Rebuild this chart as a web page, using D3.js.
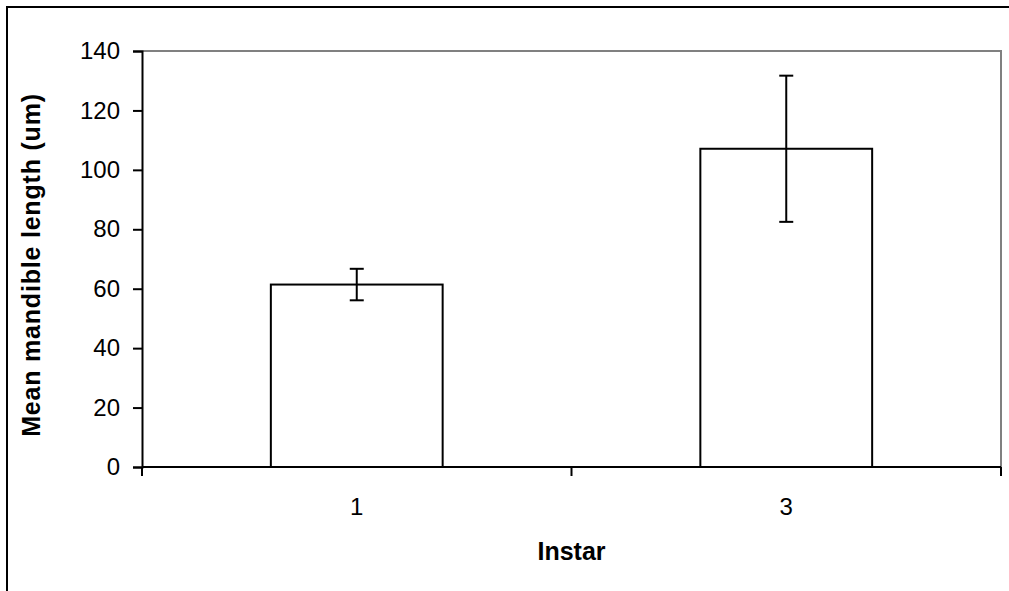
<!DOCTYPE html>
<html lang="en">
<head>
    <meta charset="UTF-8">
    <title>Mandible length</title>
    <script src="https://d3js.org/d3.v7.min.js"></script>
    <style>
        body { margin: 0; background: #fff; }
        text { font-family: Arial, "Liberation Sans", sans-serif; fill: #000; }
    </style>
</head>
<body>
<div style="width: 1009px;height: 591px" id="figure"></div>
<script>
    // data
    let instars = ["1", "3"];
    let means = [61.4, 107.1];
    let errs = [5.3, 24.6];
    let yTicks = [0, 20, 40, 60, 80, 100, 120, 140];

    let w = 1009, h = 591;
    let pLeft = 142, pRight = 1001, pTop = 51, pBottom = 467;

    let svg = d3.select("#figure").append("svg")
        .attr("width", w)
        .attr("height", h);

    // outer chart frame (cut off at right and bottom)
    svg.append("path")
        .attr("d", "M7," + h + " V7 H" + w)
        .attr("fill", "none")
        .attr("stroke", "#000")
        .attr("stroke-width", 2);

    let x = d3.scaleBand()
        .domain(instars)
        .range([pLeft, pRight])
        .paddingInner(0.6)
        .paddingOuter(0.3);
    let y = d3.scaleLinear()
        .domain([0, 140])
        .range([pBottom, pTop]);

    // plot area border, grey on top and right
    svg.append("path")
        .attr("d", "M" + pLeft + "," + pTop + " H" + pRight + " V" + pBottom)
        .attr("fill", "none")
        .attr("stroke", "#808080")
        .attr("stroke-width", 2);

    let plot = svg.append("g");

    plot.selectAll("rect.bar")
        .data(instars)
        .join("rect")
        .attr("class", "bar")
        .attr("x", d => x(d))
        .attr("y", (d, i) => y(means[i]))
        .attr("width", x.bandwidth())
        .attr("height", (d, i) => pBottom - y(means[i]))
        .attr("fill", "#fff")
        .attr("stroke", "#000")
        .attr("stroke-width", 2);

    // error bars
    let eb = plot.selectAll("g.err")
        .data(instars)
        .join("g")
        .attr("class", "err")
        .attr("stroke", "#000")
        .attr("stroke-width", 2);
    eb.append("line")
        .attr("x1", d => x(d) + x.bandwidth() / 2)
        .attr("x2", d => x(d) + x.bandwidth() / 2)
        .attr("y1", (d, i) => y(means[i] + errs[i]))
        .attr("y2", (d, i) => y(means[i] - errs[i]));
    eb.append("line")
        .attr("x1", d => x(d) + x.bandwidth() / 2 - 7)
        .attr("x2", d => x(d) + x.bandwidth() / 2 + 7)
        .attr("y1", (d, i) => y(means[i] + errs[i]))
        .attr("y2", (d, i) => y(means[i] + errs[i]));
    eb.append("line")
        .attr("x1", d => x(d) + x.bandwidth() / 2 - 7)
        .attr("x2", d => x(d) + x.bandwidth() / 2 + 7)
        .attr("y1", (d, i) => y(means[i] - errs[i]))
        .attr("y2", (d, i) => y(means[i] - errs[i]));

    // y axis
    let yAxis = svg.append("g")
        .attr("transform", "translate(" + pLeft + ",0)")
        .call(d3.axisLeft(y).tickValues(yTicks).tickSize(9).tickPadding(13));
    yAxis.select(".domain").attr("stroke-width", 2);
    yAxis.selectAll(".tick line").attr("stroke-width", 2);
    yAxis.selectAll(".tick text")
        .style("font-size", "24px")
        .style("font-family", "Arial, 'Liberation Sans', sans-serif");

    // x axis: ticks at category boundaries
    let xAxis = svg.append("g")
        .attr("transform", "translate(0," + pBottom + ")");
    xAxis.append("line")
        .attr("x1", pLeft).attr("x2", pRight)
        .attr("stroke", "#000").attr("stroke-width", 2);
    let step = x.step();
    let bounds = [pLeft, pLeft + step, pRight];
    xAxis.selectAll("line.tk")
        .data(bounds)
        .join("line")
        .attr("class", "tk")
        .attr("x1", d => d).attr("x2", d => d)
        .attr("y1", 0).attr("y2", 9)
        .attr("stroke", "#000").attr("stroke-width", 2);
    xAxis.selectAll("text")
        .data(instars)
        .join("text")
        .attr("x", d => x(d) + x.bandwidth() / 2)
        .attr("y", 48)
        .attr("text-anchor", "middle")
        .style("font-size", "24px")
        .text(d => d);

    // axis titles
    svg.append("text")
        .attr("x", (pLeft + pRight) / 2)
        .attr("y", 560)
        .attr("text-anchor", "middle")
        .style("font-size", "25px")
        .style("font-weight", "bold")
        .text("Instar");
    svg.append("text")
        .attr("transform", "translate(40,265) rotate(-90)")
        .attr("text-anchor", "middle")
        .style("font-size", "25px")
        .style("font-weight", "bold")
        .style("letter-spacing", "0.8px")
        .text("Mean mandible length (um)");
</script>
</body>
</html>
